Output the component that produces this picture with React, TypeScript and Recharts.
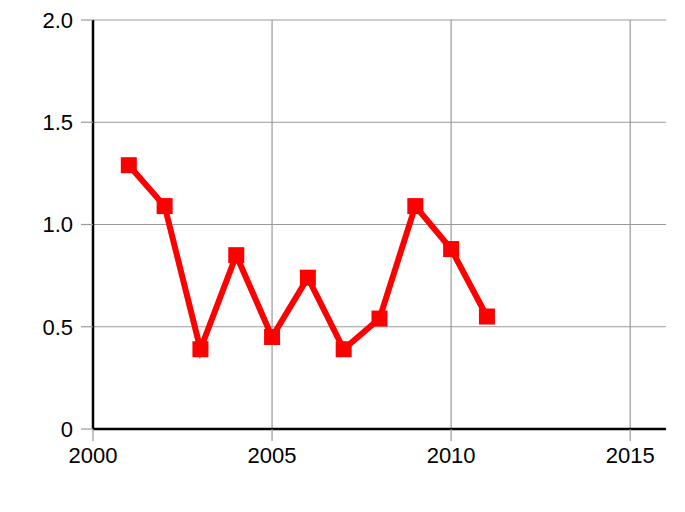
import { LineChart, Line, XAxis, YAxis, CartesianGrid } from "recharts";

const years = [2001, 2002, 2003, 2004, 2005, 2006, 2007, 2008, 2009, 2010, 2011];
const values = [1.29, 1.09, 0.39, 0.85, 0.45, 0.74, 0.39, 0.54, 1.09, 0.88, 0.55];
const xTicks = [2000, 2005, 2010, 2015];
const yTicks = [0, 0.5, 1, 1.5, 2];

const data = years.map((year, i) => ({ year, value: values[i] }));

const tickStyle = { fontFamily: "'Liberation Sans', Arial, sans-serif", fontSize: 22, fill: "#000" };

const formatY = (v: number) => (v === 0 ? "0" : v.toFixed(1));

function SquareDot(props: any) {
  const { cx, cy } = props;
  if (cx == null || cy == null) return null;
  return <rect x={cx - 8} y={cy - 8} width={16} height={16} fill="#ff0000" />;
}

export default function App() {
  return (
    <div style={{ position: "absolute", left: 0, top: 0, background: "#fff" }}>
      <LineChart width={685} height={512} data={data} margin={{ top: 20, right: 19, left: 33, bottom: 53 }}>
        <CartesianGrid stroke="#9a9a9a" strokeWidth={1.2} horizontalValues={yTicks} verticalValues={xTicks} />
        <XAxis
          dataKey="year"
          type="number"
          domain={[2000, 2016]}
          ticks={xTicks}
          height={30}
          tick={tickStyle}
          tickSize={12}
          tickMargin={6}
          tickLine={{ stroke: "#9a9a9a", strokeWidth: 1.2 }}
          axisLine={{ stroke: "#000", strokeWidth: 2.5 }}
        />
        <YAxis
          type="number"
          domain={[0, 2]}
          ticks={yTicks}
          width={60}
          tickFormatter={formatY}
          tick={tickStyle}
          tickSize={12}
          tickMargin={8}
          tickLine={{ stroke: "#9a9a9a", strokeWidth: 1.2 }}
          axisLine={{ stroke: "#000", strokeWidth: 2.5 }}
        />
        <Line
          dataKey="value"
          type="linear"
          stroke="#ff0000"
          strokeWidth={6}
          dot={<SquareDot />}
          activeDot={false}
          isAnimationActive={false}
        />
      </LineChart>
    </div>
  );
}
